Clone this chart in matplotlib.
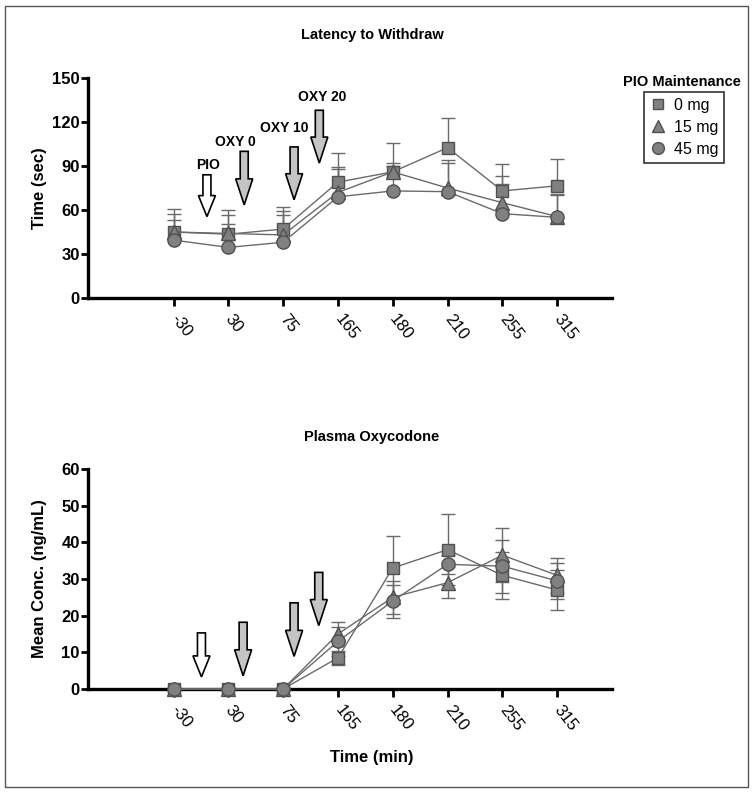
import numpy as np
import matplotlib
matplotlib.use("Agg")
import matplotlib.pyplot as plt
from matplotlib.lines import Line2D
from matplotlib.patches import FancyArrow, Rectangle

plt.rcParams['font.family'] = ['Liberation Sans', 'DejaVu Sans']

# ---------------- data ----------------
time_labels = ['-30', '30', '75', '165', '180', '210', '255', '315']
groups = ['0 mg', '15 mg', '45 mg']

# Latency to withdraw (sec), mean and upper error
lat_0 = [45, 43.5, 47, 79, 86, 102.5, 73, 76.5]
lat_15 = [45, 44, 43, 72, 86, 75, 65, 55.5]
lat_45 = [39.5, 34.5, 38, 69, 73, 72.5, 57.5, 55]
lat_err_0 = [16, 16.5, 15, 20, 20, 20.5, 18.5, 18]
lat_err_15 = [12, 12.5, 16, 17, 6, 19, 18, 15.5]
lat_err_45 = [14, 16, 18.6, 19, 17, 19.5, 20, 15]

# Plasma oxycodone (ng/mL), mean and symmetric error
oxy_0 = [0, 0, 0, 8.5, 33, 38, 31, 27]
oxy_15 = [0, 0, 0, 15, 25, 29, 36.5, 31]
oxy_45 = [0, 0, 0, 13, 24, 34, 33.5, 29.5]
oxy_err_0 = [0, 0, 0, 2, 8.6, 9.7, 6.5, 5.4]
oxy_err_15 = [0, 0, 0, 3.4, 4.5, 4.3, 7.4, 4.8]
oxy_err_45 = [0, 0, 0, 4, 4.5, 2.5, 7.2, 4.9]

# arrow annotations: (label, x position in category units, top, tip)
arrow_labels = ['PIO', 'OXY 0', 'OXY 10', 'OXY 20']
arrow_x_top = [0.61, 1.29, 2.2, 2.66]
arrow_y0_top = [84, 100, 103, 128]
arrow_y1_top = [55.5, 63.5, 67, 92]
arrow_text_y_top = [90.7, 106.5, 116, 137]
arrow_text_x_top = [0.63, 1.12, 2.02, 2.71]
arrow_x_bot = [0.51, 1.27, 2.2, 2.65]
arrow_y0_bot = [15.3, 18.2, 23.5, 31.8]
arrow_y1_bot = [3.3, 3.6, 8.9, 17.3]

# ---------------- style ----------------
W, H = 754, 795
fig = plt.figure(figsize=(W / 100, H / 100), dpi=100)

face = '#808080'
edge = '#505050'
linec = '#6a6a6a'
markers = ['s', '^', 'o']
msizes = [8.5, 9.5, 9.5]

x = np.arange(len(time_labels))

def px_ax(left, top, right, bottom):
    return [left / W, 1 - bottom / H, (right - left) / W, (bottom - top) / H]

ax1 = fig.add_axes(px_ax(88, 78, 612, 298))
ax2 = fig.add_axes(px_ax(88, 469, 612, 689))

def style_axis(ax, ymax, ystep):
    for s in ['top', 'right']:
        ax.spines[s].set_visible(False)
    for s in ['left', 'bottom']:
        ax.spines[s].set_linewidth(2.4)
        ax.spines[s].set_color('black')
    ax.set_xlim(-1.56, 8.0)
    ax.set_ylim(0, ymax)
    ax.set_yticks(np.arange(0, ymax + 1, ystep))
    ax.set_xticks(x)
    ax.set_xticklabels(time_labels, rotation=-52, ha='left', va='center',
                       rotation_mode='anchor', fontsize=12)
    ax.tick_params(axis='y', direction='out', length=5, width=2, labelsize=12, pad=1)
    ax.tick_params(axis='x', direction='out', length=6, width=2, pad=7)
    for lab in ax.get_yticklabels():
        lab.set_fontweight('bold')

def draw_upper(ax, ys, errs):
    for y, e in zip(ys, errs):
        y = np.array(y, float)
        e = np.array(e, float)
        _, caps, bars = ax.errorbar(x, y, yerr=[np.zeros_like(e), e], fmt='none',
                                    ecolor=linec, elinewidth=1.0, capsize=5,
                                    capthick=1.0, zorder=1)
        for c in caps:
            if np.allclose(c.get_ydata(), y):
                c.set_visible(False)
    for y, m, ms in zip(ys, markers, msizes):
        ax.plot(x, y, color=linec, lw=1.0, marker=m, ms=ms, mfc=face, mec=edge,
                mew=1.0, zorder=3, clip_on=False)

def draw_sym(ax, ys, errs):
    for y, e in zip(ys, errs):
        ax.errorbar(x, y, yerr=e, fmt='none', ecolor=linec, elinewidth=1.0,
                    capsize=5, capthick=1.0, zorder=1)
    for y, m, ms in zip(ys, markers, msizes):
        ax.plot(x, y, color=linec, lw=1.0, marker=m, ms=ms, mfc=face, mec=edge,
                mew=1.0, zorder=3, clip_on=False)

style_axis(ax1, 150, 30)
style_axis(ax2, 60, 10)

draw_upper(ax1, [lat_0, lat_15, lat_45], [lat_err_0, lat_err_15, lat_err_45])
draw_sym(ax2, [oxy_0, oxy_15, oxy_45], [oxy_err_0, oxy_err_15, oxy_err_45])

# arrows
xpx = 54.8  # pixels per category
def add_arrows(ax, xs, y0s, y1s, ypx):
    for i, (xa, y0, y1) in enumerate(zip(xs, y0s, y1s)):
        fc = 'white' if i == 0 else '#c4c4c4'
        hl = (21 if i == 0 else 26) / ypx
        arr = FancyArrow(xa, y0, 0, y1 - y0, width=8 / xpx, head_width=17 / xpx,
                         head_length=hl, length_includes_head=True,
                         fc=fc, ec='black', lw=1.2, zorder=4)
        ax.add_patch(arr)

add_arrows(ax1, arrow_x_top, arrow_y0_top, arrow_y1_top, 220 / 150)
add_arrows(ax2, arrow_x_bot, arrow_y0_bot, arrow_y1_bot, 220 / 60)

for lab, xt, yt in zip(arrow_labels, arrow_text_x_top, arrow_text_y_top):
    ax1.text(xt, yt, lab, ha='center', va='center', fontsize=10, fontweight='bold')

# labels and titles
ax1.set_ylabel('Time (sec)', fontsize=12, fontweight='bold')
ax1.yaxis.set_label_coords(-0.078, 0.5)
ax2.set_ylabel('Mean Conc. (ng/mL)', fontsize=12, fontweight='bold')
ax2.yaxis.set_label_coords(-0.078, 0.5)
ax2.set_xlabel('Time (min)', fontsize=12, fontweight='bold')
ax2.xaxis.set_label_coords((372 - 88) / 524, -(750 - 689) / 220)

fig.text(372 / W, 1 - 35 / H, 'Latency to Withdraw', ha='center', va='center',
         fontsize=10.5, fontweight='bold')
fig.text(372 / W, 1 - 437 / H, 'Plasma Oxycodone', ha='center', va='center',
         fontsize=10.5, fontweight='bold')

# legend
fig.text(682 / W, 1 - 82 / H, 'PIO Maintenance', ha='center', va='center',
         fontsize=10.5, fontweight='bold')
handles = [Line2D([], [], ls='none', marker=m, ms=ms - 1, mfc=face, mec=edge, mew=1.0)
           for m, ms in zip(markers, msizes)]
leg = fig.legend(handles, groups, loc='upper left',
                 bbox_to_anchor=(644 / W, 1 - 92 / H), bbox_transform=fig.transFigure,
                 frameon=True, fancybox=False, fontsize=11.5, handlelength=1.0,
                 handletextpad=0.5, borderpad=0.35, labelspacing=0.45,
                 borderaxespad=0)
leg.get_frame().set_edgecolor('black')
leg.get_frame().set_linewidth(1.2)

# outer frame
fig.patches.append(Rectangle((5 / W, 1 - 787 / H), 743 / W, 781 / H,
                             transform=fig.transFigure, fill=False,
                             ec='#555555', lw=1.0))

fig.savefig('out.png', dpi=100)
